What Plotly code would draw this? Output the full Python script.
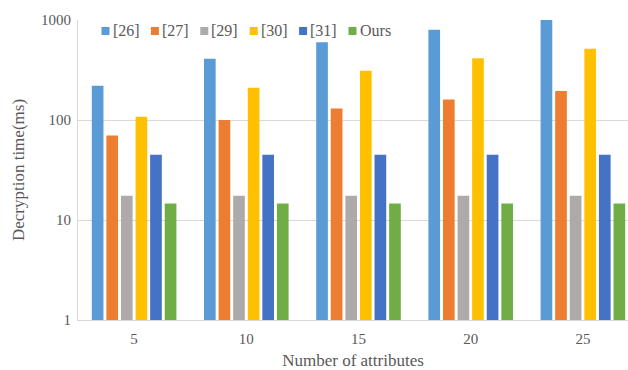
import plotly.graph_objects as go

categories = ["5", "10", "15", "20", "25"]
series_names = ["[26]", "[27]", "[29]", "[30]", "[31]", "Ours"]
s26 = [220, 410, 600, 800, 1000]
s27 = [70, 100, 130, 160, 195]
s29 = [17.5, 17.5, 17.5, 17.5, 17.5]
s30 = [108, 210, 310, 415, 515]
s31 = [45, 45, 45, 45, 45]
ours = [14.6, 14.6, 14.6, 14.6, 14.6]
colors = ["#5B9BD5", "#ED7D31", "#AEAAAA", "#FFC000", "#4472C4", "#70AD47"]

values = [s26, s27, s29, s30, s31, ours]
font = "Liberation Serif"
text_color = "#595959"

W, H = 628, 370
ML, MR, MT, MB = 78, 0, 20, 50
PW, PH = W - ML - MR, H - MT - MB

fig = go.Figure()
for name, vals, col in zip(series_names, values, colors):
    fig.add_trace(go.Bar(x=categories, y=vals, name=name,
                         marker=dict(color=col, line=dict(width=0)),
                         showlegend=False))

# Legend drawn as small squares + text (Excel-style compact legend)
leg_x0, leg_pitch, leg_cy, sq = 101.5, 49.4, 31, 8
for i, (name, col) in enumerate(zip(series_names, colors)):
    px = leg_x0 + i * leg_pitch
    x0 = (px - ML) / PW
    x1 = (px + sq - ML) / PW
    y0 = (H - MB - (leg_cy + sq / 2)) / PH
    y1 = (H - MB - (leg_cy - sq / 2)) / PH
    fig.add_shape(type="rect", xref="paper", yref="paper", x0=x0, x1=x1, y0=y0, y1=y1,
                  fillcolor=col, line=dict(width=0), layer="above")
    fig.add_annotation(xref="paper", yref="paper", x=(px + sq + 1 - ML) / PW,
                       y=(H - MB - leg_cy) / PH, xanchor="left", yanchor="middle",
                       text=name, showarrow=False,
                       font=dict(family=font, size=16, color=text_color))

fig.update_layout(
    width=W, height=H,
    margin=dict(l=ML, r=MR, t=MT, b=MB, autoexpand=False),
    paper_bgcolor="white", plot_bgcolor="white",
    barmode="group", bargap=0.22, bargroupgap=0.2,
    font=dict(family=font, size=15, color=text_color),
    showlegend=False,
)
fig.update_xaxes(
    type="category", range=[-0.5, 4.402],
    showline=True, linecolor="#D9D9D9", linewidth=1,
    showgrid=False, ticks="", tickfont=dict(family=font, size=15, color=text_color),
    ticklabelstandoff=5,
    title=dict(text="Number of attributes", font=dict(family=font, size=17, color=text_color), standoff=12),
)
fig.update_yaxes(
    type="log", range=[0, 3],
    tickvals=[1, 10, 100, 1000], ticktext=["1", "10", "100", "1000"],
    showline=True, linecolor="#D9D9D9", linewidth=1,
    showgrid=True, gridcolor="#D9D9D9", gridwidth=1,
    ticks="", tickfont=dict(family=font, size=15, color=text_color), ticklabelstandoff=3,
    title=dict(text="Decryption time(ms)", font=dict(family=font, size=17, color=text_color), standoff=12),
    zeroline=False,
)

fig.write_html("out.html", config={"displayModeBar": False},
               post_script="document.body.style.margin='0px';")
